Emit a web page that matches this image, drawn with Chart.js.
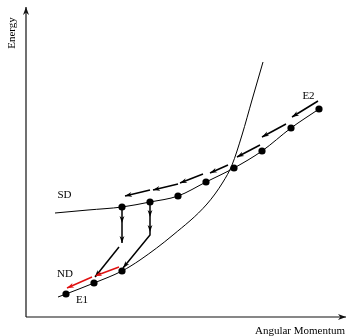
<!DOCTYPE html>
<html><head><meta charset="utf-8">
<script src="https://cdn.jsdelivr.net/npm/chart.js@4/dist/chart.umd.min.js"></script>
<style>html,body{margin:0;padding:0;background:#fff;}canvas{display:block;}</style>
</head><body>
<canvas id="c" width="347" height="336"></canvas>
<script>
// Energy vs angular momentum diagram (arbitrary units, origin at the axes' corner)

// Lower branch through the E1 states, rising steeply at high angular momentum
const curveE1 = [[32,20],[40,23],[68,34],[96,46],[114,57],[147,82],[181,113],[197,135],[206,152],[216,182],[226,217],[237,255]];
// SD branch running up to E2
const curveSD = [[29,104],[62,107],[96,110],[124,115],[152,121],[180,135],[208,149],[236,166],[265,189],[293,208]];
// States on each branch
const statesE1 = [[40,23],[68,34],[96,46]];
const statesSD = [[96,110],[124,115],[152,121],[180,135],[208,149],[236,166],[265,189],[293,208]];
// Cascade down the SD band (tail -> head)
const cascadeSD = [
  [[292,216],[266,200]],
  [[260,193],[236,180]],
  [[234,172],[211,160]],
  [[202,152],[184,144]],
  [[177,143],[154,134]],
  [[152,133],[127,127]],
  [[124,127],[99,121]]
];
// Decay out of the SD band: vertical drops then into the E1 states
const drop1 = [[96,108],[96,94],[96,74]];
const drop1Heads = [1,2];
const link1 = [[93,70],[69,40]];
const drop2 = [[124,113],[124,100],[124,85],[124,82],[97,49]];
const drop2Heads = [1,2,4];
// Cascade along the ND band
const cascadeND = [
  [[93,50],[69,41]],
  [[66,40],[41,29]]
];
// Axes
const axisX = [[0,0],[320,0]];
const axisY = [[0,0],[0,310]];
// Text annotations: [text, x, y, rotated]
const notes = [
  ['E2',282.5,220.5,false],
  ['SD',38.5,122,false],
  ['ND',39,42.5,false],
  ['E1',56,17,false],
  ['Angular Momentum',274,-14,false],
  ['Energy',-14,284,true]
];

const pts = a => a.map(p => ({x:p[0], y:p[1]}));
const datasets = [];

datasets.push({data:pts(axisX), showLine:true, borderColor:'#111', borderWidth:1.2, pointRadius:0, heads:[1], headColor:'#111', headLen:8, headW:3});
datasets.push({data:pts(axisY), showLine:true, borderColor:'#111', borderWidth:1.2, pointRadius:0, heads:[1], headColor:'#111', headLen:8, headW:3});
datasets.push({data:pts(curveE1), showLine:true, borderColor:'#000', borderWidth:1, pointRadius:0, cubicInterpolationMode:'monotone'});
datasets.push({data:pts(curveSD), showLine:true, borderColor:'#000', borderWidth:1, pointRadius:0, cubicInterpolationMode:'monotone'});
cascadeSD.forEach(a => datasets.push({data:pts(a), showLine:true, borderColor:'#000', borderWidth:1.5, pointRadius:0, heads:[1], headColor:'#000', headLen:7, headW:2.4}));
datasets.push({data:pts(drop1), showLine:true, borderColor:'#000', borderWidth:1.5, pointRadius:0, heads:drop1Heads, headColor:'#000', headLen:7, headW:2.4});
datasets.push({data:pts(link1), showLine:true, borderColor:'#000', borderWidth:1.5, pointRadius:0, heads:[1], headColor:'#000', headLen:7, headW:2.4});
datasets.push({data:pts(drop2), showLine:true, borderColor:'#000', borderWidth:1.5, pointRadius:0, heads:drop2Heads, headColor:'#000', headLen:7, headW:2.4});
cascadeND.forEach(a => datasets.push({data:pts(a), showLine:true, borderColor:'#e01010', borderWidth:1.5, pointRadius:0, heads:[1], headColor:'#e01010', headLen:7, headW:2.4}));
datasets.push({data:pts(statesE1), showLine:false, pointRadius:3.6, pointBackgroundColor:'#000', pointBorderWidth:0});
datasets.push({data:pts(statesSD), showLine:false, pointRadius:3.6, pointBackgroundColor:'#000', pointBorderWidth:0});
datasets.forEach(d => { d.clip = false; d.tension = d.tension || 0; });

// Draws arrowheads at the listed point indices of each arrow dataset
const arrowHeads = {
  id:'arrowHeads',
  afterDatasetsDraw(chart){
    const ctx = chart.ctx;
    chart.data.datasets.forEach((ds, i) => {
      if (!ds.heads) return;
      const el = chart.getDatasetMeta(i).data;
      ds.heads.forEach(k => {
        const p = el[k], q = el[k-1];
        const ang = Math.atan2(p.y - q.y, p.x - q.x);
        const L = ds.headLen, W = ds.headW;
        ctx.save();
        ctx.translate(p.x, p.y);
        ctx.rotate(ang);
        ctx.fillStyle = ds.headColor;
        ctx.beginPath();
        ctx.moveTo(0,0);
        ctx.lineTo(-L, -W);
        ctx.lineTo(-L*0.7, 0);
        ctx.lineTo(-L, W);
        ctx.closePath();
        ctx.fill();
        ctx.restore();
      });
    });
  }
};

// Labels placed in data coordinates
const noteText = {
  id:'noteText',
  afterDraw(chart){
    const ctx = chart.ctx, sx = chart.scales.x, sy = chart.scales.y;
    ctx.save();
    ctx.fillStyle = '#000';
    ctx.font = '11px "Liberation Serif", "DejaVu Serif", serif';
    ctx.textAlign = 'center';
    ctx.textBaseline = 'middle';
    notes.forEach(([t, x, y, rot]) => {
      const px = sx.getPixelForValue(x), py = sy.getPixelForValue(y);
      ctx.save();
      ctx.translate(px, py);
      if (rot) ctx.rotate(-Math.PI/2);
      ctx.fillText(t, 0, 0);
      ctx.restore();
    });
    ctx.restore();
  }
};

new Chart(document.getElementById('c'), {
  type:'scatter',
  data:{datasets},
  options:{
    responsive:false,
    animation:false,
    layout:{padding:0, autoPadding:false},
    plugins:{legend:{display:false}, tooltip:{enabled:false}},
    scales:{
      x:{type:'linear', min:-26, max:321, display:false},
      y:{type:'linear', min:-19, max:317, display:false}
    }
  },
  plugins:[arrowHeads, noteText]
});
</script>
</body></html>
